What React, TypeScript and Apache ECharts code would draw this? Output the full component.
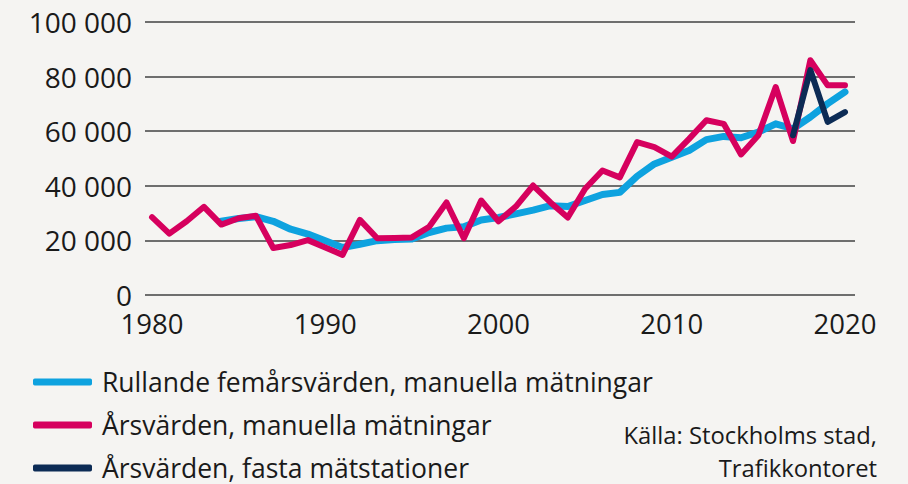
import React, { useEffect, useRef } from "react";
import * as echarts from "echarts";

const years: number[] = [];
for (let y = 1980; y <= 2020; y++) years.push(y);

// Årsvärden, manuella mätningar (1980–2020)
const arsManuella = [
  28500, 22500, 27000, 32300, 25800, 28100, 29000, 17200, 18300, 20100,
  17400, 14700, 27500, 20800, 20900, 21100, 25000, 33900, 20800, 34600,
  27000, 32400, 40100, 33900, 28400, 38900, 45600, 43100, 56000, 54200,
  50700, 57200, 64000, 62700, 51500, 58500, 76200, 56400, 86000, 76800,
  76800,
];

// Rullande femårsvärden, manuella mätningar (1984–2020)
const rullandeStart = 1984;
const rullande = [
  27000, 28000, 28700, 27000, 24100, 22300, 19900, 17400, 18600, 19900,
  20300, 20500, 22900, 24500, 25000, 27500, 28400, 29700, 31100, 32700,
  32400, 34600, 36800, 37600, 43500, 48000, 50500, 52900, 56900, 58100,
  57600, 59700, 62700, 60900, 65200, 70100, 74400,
];

// Årsvärden, fasta mätstationer (2017–2020)
const fastaStart = 2017;
const fasta = [58500, 82400, 63400, 67000];

const xTickLabels = [1980, 1990, 2000, 2010, 2020];
const seriesNames = [
  "Rullande femårsvärden, manuella mätningar",
  "Årsvärden, manuella mätningar",
  "Årsvärden, fasta mätstationer",
];
const sourceText = "Källa: Stockholms stad,\nTrafikkontoret";

const COLORS = ["#0ea2df", "#d6005e", "#0c2b55"];
const FONT = "Open Sans";

export default function App() {
  const ref = useRef<HTMLDivElement>(null);
  useEffect(() => {
    if (!ref.current) return;
    const chart = echarts.init(ref.current, undefined, { renderer: "svg" });
    const fmt = (v: number) =>
      String(Math.round(v)).replace(/\B(?=(\d{3})+(?!\d))/g, " ");
    chart.setOption({
      animation: false,
      backgroundColor: "#f5f4f2",
      textStyle: { fontFamily: FONT },
      grid: { left: 145, right: 53, top: 22, bottom: 189, containLabel: false },
      xAxis: {
        type: "value",
        min: 1979.596,
        max: 2020.577,
        axisLine: { show: false },
        axisTick: { show: false },
        splitLine: { show: false },
        axisLabel: {
          customValues: xTickLabels,
          fontSize: 27.5,
          color: "#1a1a1a",
          margin: 14,
          fontFamily: FONT,
          formatter: (v: number) => String(v),
        },
      },
      yAxis: {
        type: "value",
        min: 0,
        max: 100000,
        interval: 20000,
        axisLine: { show: false },
        axisTick: { show: false },
        splitLine: { show: true, lineStyle: { color: "#6e6e6e", width: 2 } },
        axisLabel: {
          fontSize: 28,
          color: "#1a1a1a",
          margin: 13,
          fontFamily: FONT,
          formatter: fmt,
        },
      },
      legend: {
        orient: "vertical",
        left: 28,
        top: 362,
        height: 120,
        itemWidth: 59,
        itemHeight: 7,
        itemGap: 13,
        icon: "roundRect",
        textStyle: {
          fontSize: 26.5,
          color: "#1a1a1a",
          fontFamily: FONT,
          lineHeight: 30,
          padding: [0, 0, 0, 5],
        },
        data: seriesNames,
      },
      graphic: [
        {
          type: "text",
          x: 877,
          y: 418,
          style: {
            text: sourceText,
            align: "right",
            verticalAlign: "top",
            fontSize: 23.8,
            lineHeight: 33,
            fill: "#1a1a1a",
            fontFamily: FONT,
          },
        },
      ],
      series: [
        {
          name: seriesNames[0],
          type: "line",
          showSymbol: false,
          color: COLORS[0],
          lineStyle: { width: 7, color: COLORS[0], cap: "round", join: "round" },
          data: rullande.map((v, i) => [rullandeStart + i, v]),
          z: 2,
        },
        {
          name: seriesNames[1],
          type: "line",
          showSymbol: false,
          color: COLORS[1],
          lineStyle: { width: 6, color: COLORS[1], cap: "round", join: "round" },
          data: arsManuella.map((v, i) => [years[i], v]),
          z: 3,
        },
        {
          name: seriesNames[2],
          type: "line",
          showSymbol: false,
          color: COLORS[2],
          lineStyle: { width: 6, color: COLORS[2], cap: "round", join: "round" },
          data: fasta.map((v, i) => [fastaStart + i, v]),
          z: 4,
        },
      ],
    });
    return () => chart.dispose();
  }, []);
  return (
    <div
      ref={ref}
      style={{ position: "fixed", left: 0, top: 0, width: 908, height: 484 }}
    />
  );
}
